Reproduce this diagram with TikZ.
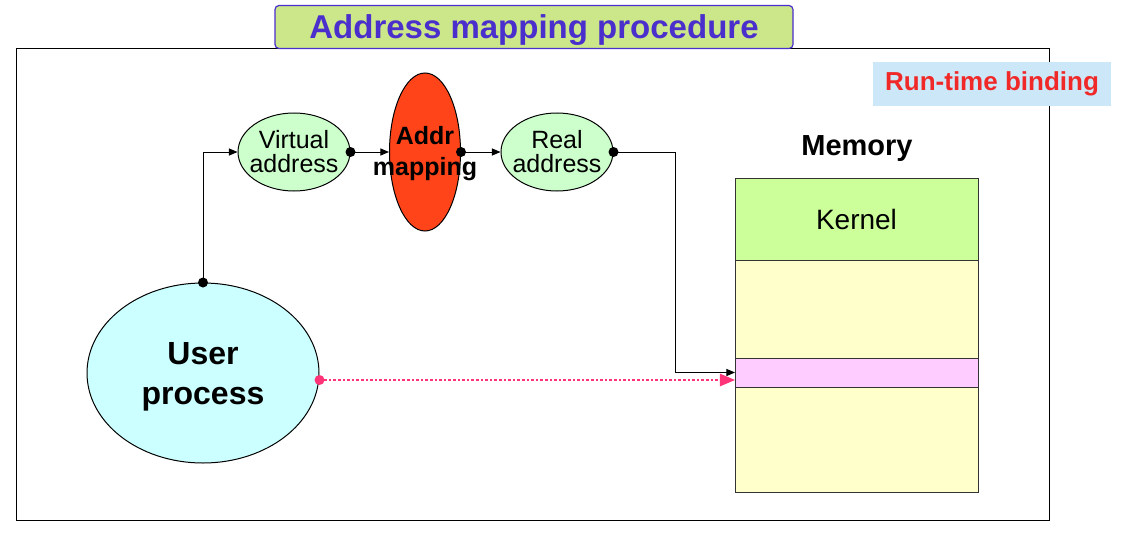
\documentclass[tikz,border=0pt]{standalone}
\usepackage{fontspec}
\setmainfont{Liberation Sans}
\usetikzlibrary{arrows,shapes,positioning}
\definecolor{titlegreen}{HTML}{CCE68A}
\definecolor{titleblue}{HTML}{4A2FCC}
\definecolor{bindblue}{HTML}{CCE8F8}
\definecolor{bindred}{HTML}{F02828}
\definecolor{addrgreen}{HTML}{CCFFCC}
\definecolor{maporange}{HTML}{FF4419}
\definecolor{usercyan}{HTML}{CCFFFF}
\definecolor{kerngreen}{HTML}{CCFF99}
\definecolor{freeyellow}{HTML}{FFFFCC}
\definecolor{slotpink}{HTML}{FFCCFF}
\definecolor{dotpink}{HTML}{FF3377}

\begin{document}
\begin{tikzpicture}
        [x=1pt,y=-1pt,>=triangle 45,
          blob/.style={ellipse,draw,line width=1pt,inner sep=0pt},
          addr/.style={blob,fill=addrgreen,minimum width=112pt,minimum height=78pt},
          addrtext/.style={align=center,font=\fontsize{25}{24}\selectfont},
          memband/.style={rectangle,draw=black!80,line width=1pt,inner sep=0pt,outer sep=0pt,
            minimum width=243pt},
          flow/.style={->,line width=1pt},
          pin/.style={fill,circle,inner sep=0pt,minimum size=10pt}]
        \useasboundingbox (0,0) rectangle (1122,535);
        \draw[line width=1pt] (16,49) rectangle (1049,520);

        % title and binding label
        \node[draw=titleblue,line width=1.2pt,fill=titlegreen,rounded corners=4pt,
          minimum width=518pt,minimum height=43pt] (title) at (534,27) {};
        \node[text=titleblue,font=\fontsize{33}{33}\selectfont\bfseries]
          at ([yshift=-3pt]title.center) {Address mapping procedure};
        \node[fill=bindblue,minimum width=238pt,minimum height=44pt,text=bindred,
          font=\fontsize{26}{26}\selectfont\bfseries] (bind) at (992,84) {Run-time binding};

        % address path
        \node[addr,label={[addrtext]center:Virtual\\address}] (va) at (294,152) {};
        \node[blob,fill=maporange,minimum width=71pt,minimum height=158pt,
          label={[align=center,font=\fontsize{25}{31}\selectfont\bfseries,yshift=-2pt]center:Addr\\mapping}]
          (map) at (425,152) {};
        \node[addr,label={[addrtext]center:Real\\address}] (ra) at (557,152) {};
        \node[blob,fill=usercyan,minimum width=232pt,minimum height=180pt,
          label={[align=center,font=\fontsize{32}{40}\selectfont\bfseries,yshift=-4pt]center:User\\process}]
          (up) at (203,373) {};

        % memory
        \node[font=\fontsize{29}{29}\selectfont\bfseries] (memlabel) at (857,149) {Memory};
        \node[memband,fill=kerngreen,minimum height=82pt,anchor=north west,
          font=\fontsize{28}{28}\selectfont] (kern) at (735,178) {Kernel};
        \node[memband,fill=freeyellow,minimum height=98pt,below=0pt of kern] (freeA) {};
        \node[memband,fill=slotpink,minimum height=29pt,below=0pt of freeA] (slot) {};
        \node[memband,fill=freeyellow,minimum height=105pt,below=0pt of slot] (freeB) {};

        \draw[flow] (up.north) |- (va.west);
        \draw[flow] (va.east) -- (map.west);
        \draw[flow] (map.east) -- (ra.west);
        \draw[flow] (ra.east) -- ++(62,0) |- (slot.west);
        \draw[->,dotpink,line width=2.6pt,dotted] ([yshift=-7pt]up.east) -- ([yshift=-7.5pt]slot.west);

        \node[pin] at (up.north) {};
        \node[pin] at (va.east) {};
        \node[pin] at (map.east) {};
        \node[pin] at (ra.east) {};
        \node[pin,dotpink] at ([yshift=-7pt]up.east) {};

      \end{tikzpicture}
\end{document}
